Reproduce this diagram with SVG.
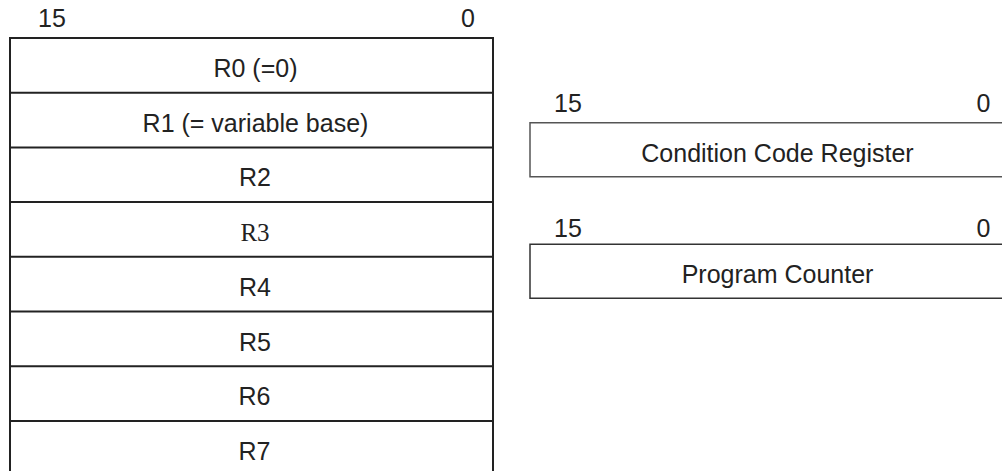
<svg xmlns="http://www.w3.org/2000/svg" width="1002" height="471" viewBox="0 0 1002 471">
<style>
.t{font-family:"Liberation Sans",Arial,sans-serif;font-size:25px;fill:#222;}
.m{text-anchor:middle;}
.e{text-anchor:end;}
.s{font-family:"Liberation Serif","Times New Roman",serif;}
.reg{fill:none;stroke:#222;stroke-width:2;}
.box{fill:none;stroke:#555;stroke-width:1.5;}
</style>
<rect width="1002" height="471" fill="#fff"/>
<g id="gpr-bits">
<text class="t" x="38" y="27">15</text>
<text class="t e" x="475" y="27">0</text>
</g>
<g id="gpr">
<path class="reg" d="M10,480 V38 H493 V480"/>
<line class="reg" x1="10" y1="92.7" x2="493" y2="92.7"/>
<line class="reg" x1="10" y1="147.4" x2="493" y2="147.4"/>
<line class="reg" x1="10" y1="202.1" x2="493" y2="202.1"/>
<line class="reg" x1="10" y1="256.8" x2="493" y2="256.8"/>
<line class="reg" x1="10" y1="311.5" x2="493" y2="311.5"/>
<line class="reg" x1="10" y1="366.2" x2="493" y2="366.2"/>
<line class="reg" x1="10" y1="420.9" x2="493" y2="420.9"/>
</g>
<g id="r0"><text class="t m" x="255.5" y="77">R0 (=0)</text></g>
<g id="r1"><text class="t m" x="255.5" y="131.7">R1 (= variable base)</text></g>
<g id="r2"><text class="t m" x="255" y="186.4">R2</text></g>
<g id="r3"><text class="t m s" x="255" y="241.1">R3</text></g>
<g id="r4"><text class="t m" x="255" y="295.8">R4</text></g>
<g id="r5"><text class="t m" x="255" y="350.5">R5</text></g>
<g id="r6"><text class="t m" x="254.5" y="405.2">R6</text></g>
<g id="r7"><text class="t m" x="254.5" y="459.9">R7</text></g>
<g id="ccr">
<text class="t" x="554" y="112">15</text>
<text class="t e" x="990.5" y="112">0</text>
<path class="box" d="M1010,122.7 H530 V176.7 H1010"/>
<text class="t m" x="777.5" y="161.7">Condition Code Register</text>
</g>
<g id="pc">
<text class="t" x="554" y="236.5">15</text>
<text class="t e" x="990.5" y="236.5">0</text>
<path class="box" d="M1010,244.3 H530 V298.3 H1010" style="stroke:#333"/>
<text class="t m" x="777.5" y="283.3">Program Counter</text>
</g>
<g id="connectors"></g>
</svg>
